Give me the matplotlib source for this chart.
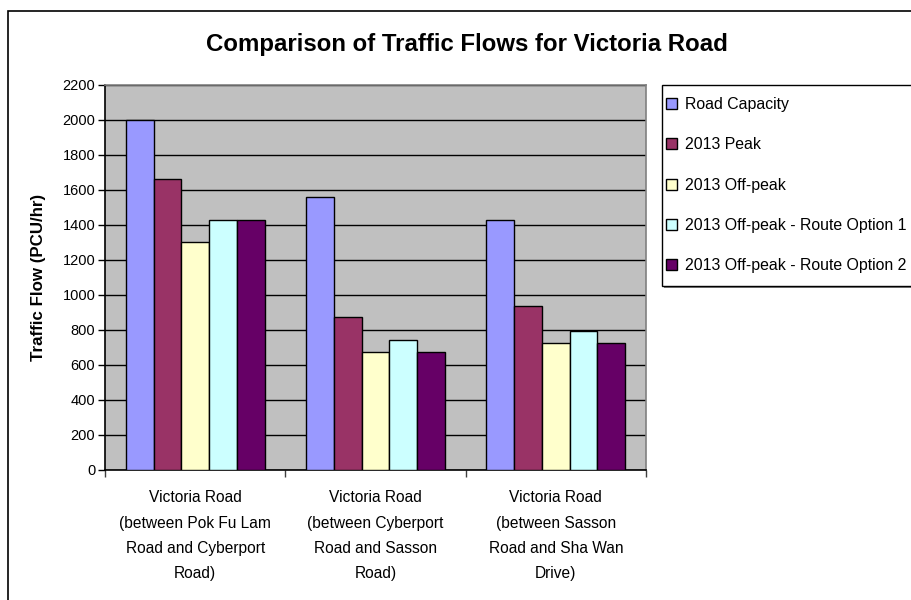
import matplotlib.pyplot as plt
from matplotlib.patches import Rectangle, Patch
import numpy as np

plt.rcParams['font.family'] = ['Liberation Sans', 'DejaVu Sans']

roads = ['Victoria Road\n(between Pok Fu Lam\nRoad and Cyberport\nRoad)',
         'Victoria Road\n(between Cyberport\nRoad and Sasson\nRoad)',
         'Victoria Road\n(between Sasson\nRoad and Sha Wan\nDrive)']
series = ['Road Capacity', '2013 Peak', '2013 Off-peak',
          '2013 Off-peak - Route Option 1', '2013 Off-peak - Route Option 2']
capacity = [2000, 1560, 1430]
peak = [1665, 870, 935]
offpeak = [1300, 670, 725]
route1 = [1430, 740, 790]
route2 = [1430, 670, 725]
colors = ['#9999FF', '#993366', '#FFFFCC', '#CCFFFF', '#660066']

values = [capacity, peak, offpeak, route1, route2]

fig = plt.figure(figsize=(9.12, 6), dpi=100)
fig.patches.append(Rectangle((8 / 912, -0.1), 1.2, 1 - 11 / 600 + 0.1, transform=fig.transFigure,
                             fill=False, edgecolor='black', lw=1.2))

ax = fig.add_axes([105 / 912, 1 - 469.5 / 600, 541 / 912, 384.5 / 600])
ax.set_facecolor('#C0C0C0')

x = np.arange(len(roads))
w = 1 / 6.5
for i, (vals, c) in enumerate(zip(values, colors)):
    ax.bar(x + (i - 2) * w, vals, w, color=c, edgecolor='black', lw=1, zorder=3)

ax.set_ylim(0, 2200)
ax.set_xlim(-0.5, 2.5)
ax.set_yticks(range(0, 2201, 200))
ax.tick_params(axis='y', labelsize=10.5, length=5, width=1, pad=2)
ax.yaxis.grid(True, color='black', lw=1, zorder=0)
ax.set_axisbelow(True)

ax.set_xticks([-0.5, 0.5, 1.5, 2.5])
ax.set_xticklabels([])
ax.set_xticks(x, minor=True)
ax.set_xticklabels(roads, minor=True, fontsize=11.2, linespacing=1.85)
ax.tick_params(axis='x', which='major', length=5, width=1, color='#404040')
ax.tick_params(axis='x', which='minor', length=0, pad=15)

ax.spines['left'].set_color('black')
ax.spines['bottom'].set_color('black')
ax.spines['top'].set_color('#808080')
ax.spines['right'].set_color('#808080')
for s in ax.spines.values():
    s.set_linewidth(1.2)

ax.set_ylabel('Traffic Flow (PCU/hr)', fontsize=12.2, fontweight='bold', labelpad=12)
fig.text(467 / 912, 1 - 44 / 600, 'Comparison of Traffic Flows for Victoria Road',
         ha='center', va='center', fontsize=17.3, fontweight='bold')

# legend box, cut off at the right like the original
fig.patches.append(Rectangle((664 / 912, 1 - 288 / 600), 0.4, 201 / 600, transform=fig.transFigure,
                             facecolor='#808080', edgecolor='none'))
fig.patches.append(Rectangle((662 / 912, 1 - 286 / 600), 0.4, 201 / 600, transform=fig.transFigure,
                             facecolor='white', edgecolor='black', lw=1))
handles = [Patch(facecolor=c, edgecolor='black', lw=1) for c in colors]
fig.legend(handles, series, loc='upper left', bbox_to_anchor=(666 / 912, 1 - 97 / 600),
           frameon=False, fontsize=11.4, handlelength=0.7, handleheight=0.7,
           handletextpad=0.5, labelspacing=1.6, borderaxespad=0, borderpad=0)

fig.savefig('out.png', dpi=100)
